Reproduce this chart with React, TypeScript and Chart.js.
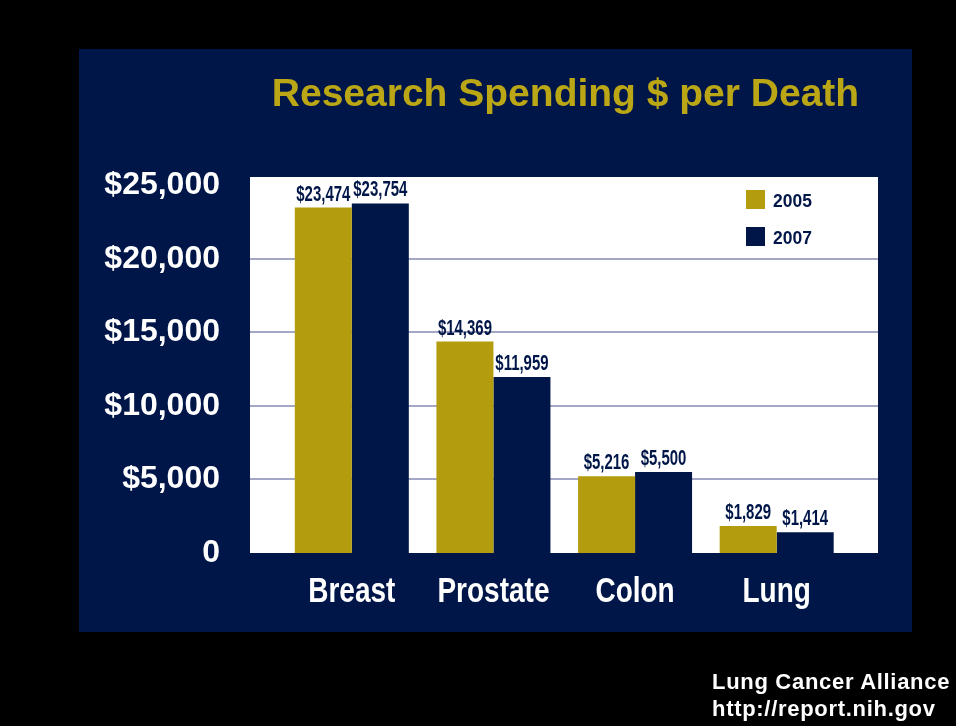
import React, { useEffect, useRef } from "react";
import { Chart, registerables } from "chart.js";

Chart.register(...registerables);

// ---- data ----
const chartTitle = "Research Spending $ per Death";
const categories = ["Breast", "Prostate", "Colon", "Lung"];
const seriesNames = ["2005", "2007"];
const values2005 = [23474, 14369, 5216, 1829];
const values2007 = [23754, 11959, 5500, 1414];
const yTickValues = [0, 5000, 10000, 15000, 20000, 25000];
const yTickLabels = ["0", "$5,000", "$10,000", "$15,000", "$20,000", "$25,000"];
const gridValues = [5000, 10000, 15000, 20000];
const sourceLines = ["Lung Cancer Alliance", "http://report.nih.gov"];

// ---- styles ----
const GOLD = "#b49c0f";
const NAVY = "#011648";
const TITLE_GOLD = "#bba615";
const GRID = "#a3a6c4";
const SANS = "'Liberation Sans', Arial, Helvetica, sans-serif";

const fmt = (v: number) => "$" + v.toLocaleString("en-US");

const decorPlugin = {
  id: "decor",
  beforeDraw(chart: any) {
    const { ctx, chartArea } = chart;
    const ca = chartArea;
    ctx.save();
    // navy panel
    ctx.fillStyle = NAVY;
    ctx.fillRect(79, 49, 833, 583);
    // white plot background (extends beyond category area)
    ctx.fillStyle = "#ffffff";
    const wl = ca.left - 31;
    const wr = ca.right + 30.5;
    ctx.fillRect(wl, ca.top, wr - wl, ca.bottom - ca.top);
    // grid lines
    const y = chart.scales.y;
    ctx.strokeStyle = GRID;
    ctx.lineWidth = 2;
    gridValues.forEach((v) => {
      const py = Math.round(y.getPixelForValue(v));
      ctx.beginPath();
      ctx.moveTo(wl, py);
      ctx.lineTo(wr, py);
      ctx.stroke();
    });
    // title
    ctx.fillStyle = TITLE_GOLD;
    ctx.font = `bold 39px ${SANS}`;
    ctx.textAlign = "center";
    ctx.textBaseline = "alphabetic";
    ctx.fillText(chartTitle, 565.5, 106);
    ctx.restore();
  },
  afterDraw(chart: any) {
    // condensed category labels, placed by the x scale
    const { ctx, chartArea } = chart;
    const x = chart.scales.x;
    ctx.save();
    ctx.fillStyle = "#ffffff";
    ctx.font = `bold 35px ${SANS}`;
    ctx.textAlign = "center";
    ctx.textBaseline = "alphabetic";
    chart.data.labels.forEach((lab: string, i: number) => {
      ctx.save();
      ctx.translate(x.getPixelForValue(i), chartArea.bottom + 48.5);
      ctx.scale(0.8, 1);
      ctx.fillText(lab, 0, 0);
      ctx.restore();
    });
    ctx.restore();
  },
  afterDatasetsDraw(chart: any) {
    const { ctx, chartArea } = chart;
    ctx.save();
    // value labels
    ctx.fillStyle = NAVY;
    ctx.font = `bold 22px ${SANS}`;
    ctx.textAlign = "center";
    ctx.textBaseline = "alphabetic";
    chart.data.datasets.forEach((ds: any, i: number) => {
      const meta = chart.getDatasetMeta(i);
      meta.data.forEach((el: any, j: number) => {
        ctx.save();
        ctx.translate(el.x, el.y - 7);
        ctx.scale(0.68, 1);
        ctx.fillText(fmt(ds.data[j]), 0, 0);
        ctx.restore();
      });
    });
    // legend
    const lx = chartArea.right - 101.5;
    const ly = chartArea.top + 13;
    chart.data.datasets.forEach((ds: any, i: number) => {
      const top = ly + i * 37;
      ctx.fillStyle = ds.backgroundColor;
      ctx.fillRect(lx, top, 19, 19);
      ctx.fillStyle = NAVY;
      ctx.font = `bold 19px ${SANS}`;
      ctx.textAlign = "left";
      ctx.save();
      ctx.translate(lx + 27, top + 17);
      ctx.scale(0.92, 1);
      ctx.fillText(ds.label, 0, 0);
      ctx.restore();
    });
    ctx.restore();
  },
};

export default function App() {
  const ref = useRef<HTMLCanvasElement | null>(null);

  useEffect(() => {
    if (!ref.current) return;
    const chart = new Chart(ref.current, {
      type: "bar",
      data: {
        labels: categories,
        datasets: [
          { label: seriesNames[0], data: values2005, backgroundColor: GOLD, borderWidth: 0 },
          { label: seriesNames[1], data: values2007, backgroundColor: NAVY, borderWidth: 0 },
        ],
      },
      options: {
        responsive: false,
        animation: false,
        devicePixelRatio: 1,
        layout: { padding: { left: 80, right: 108.5, top: 177, bottom: 113 } },
        plugins: {
          legend: { display: false },
          title: { display: false },
          tooltip: { enabled: false },
        },
        datasets: {
          bar: { categoryPercentage: 0.805, barPercentage: 1 },
        },
        scales: {
          x: {
            grid: { display: false, drawTicks: false },
            border: { display: false },
            ticks: { display: false },
            afterFit: (s: any) => {
              s.height = 60;
            },
          },
          y: {
            min: 0,
            max: 25550,
            grid: { display: false, drawTicks: false },
            border: { display: false },
            afterBuildTicks: (s: any) => {
              s.ticks = yTickValues.map((v) => ({ value: v }));
            },
            ticks: {
              color: "#ffffff",
              padding: 61,
              font: { family: SANS, size: 32, weight: "bold" },
              callback: (v: any) => {
                const k = yTickValues.indexOf(Number(v));
                return k >= 0 ? yTickLabels[k] : "";
              },
            },
            afterFit: (s: any) => {
              s.width = 201;
            },
          },
        },
      },
      plugins: [decorPlugin],
    } as any);
    return () => chart.destroy();
  }, []);

  return (
    <div
      style={{
        position: "fixed",
        left: 0,
        top: 0,
        width: 956,
        height: 726,
        background: "#000000",
        overflow: "hidden",
      }}
    >
      <canvas ref={ref} width={956} height={726} style={{ display: "block", width: 956, height: 726 }} />
      <div
        style={{
          position: "absolute",
          left: 712,
          top: 668,
          color: "#ffffff",
          fontFamily: SANS,
          fontWeight: "bold",
          fontSize: 22,
          lineHeight: "27px",
          letterSpacing: "0.7px",
          whiteSpace: "pre",
        }}
      >
        {sourceLines.map((l) => (
          <div key={l}>{l}</div>
        ))}
      </div>
    </div>
  );
}
